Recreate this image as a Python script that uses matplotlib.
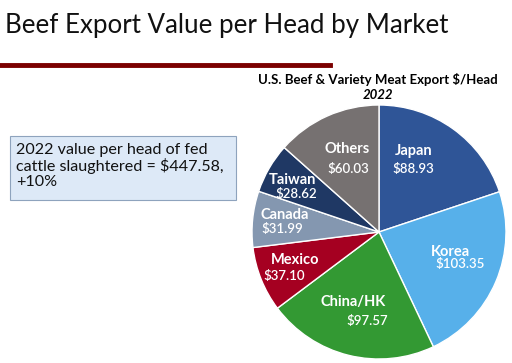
import matplotlib.pyplot as plt
from matplotlib.patches import Rectangle
from matplotlib.lines import Line2D

plt.rcParams['font.family'] = ['Lato', 'DejaVu Sans']

markets = ["Japan", "Korea", "China/HK", "Mexico", "Canada", "Taiwan", "Others"]
values = [88.93, 103.35, 97.57, 37.10, 31.99, 28.62, 60.03]
colors = ["#2f5597", "#57b0ea", "#339933", "#a50021", "#8497b0", "#1f3864", "#767171"]
# name (dx, dy) and value (dx, dy) relative to pie centre, in radius units
name_pos = [(0.27, 0.64), (0.56, -0.16), (-0.20, -0.55), (-0.66, -0.22),
            (-0.74, 0.13), (-0.68, 0.41), (-0.25, 0.65)]
value_pos = [(0.27, 0.50), (0.64, -0.25), (-0.09, -0.70), (-0.75, -0.35),
             (-0.76, 0.02), (-0.65, 0.30), (-0.24, 0.50)]

fig = plt.figure(figsize=(5.12, 3.63), dpi=100)
W, H = 512, 363

fig.text(5 / W, 1 - 25 / H, "Beef Export Value per Head by Market",
         fontsize=18.6, ha="left", va="center", color="#111111")
fig.add_artist(Line2D([0, 330 / W], [1 - 64.5 / H] * 2, color="#7b0000", lw=3.5))

fig.text(378 / W, 1 - 80 / H, "U.S. Beef & Variety Meat Export $/Head",
         fontsize=9.5, fontweight="bold", ha="center", va="center")
fig.text(378 / W, 1 - 95 / H, "2022", fontsize=9.5, fontweight="bold",
         style="italic", ha="center", va="center")

fig.add_artist(Rectangle((10 / W, 1 - 200 / H), 226 / W, 64 / H,
                         transform=fig.transFigure, facecolor="#dde9f7",
                         edgecolor="#8ea3bd", lw=0.8))
fig.text(16 / W, 1 - 166 / H,
         "2022 value per head of fed\ncattle slaughtered = $447.58,\n+10%",
         fontsize=11.6, ha="left", va="center", linespacing=1.05, color="#111111")

cx, cy, r = 379, 232, 127
ax = fig.add_axes([(cx - r) / W, (H - cy - r) / H, 2 * r / W, 2 * r / H])
ax.pie(values, colors=colors, startangle=90, counterclock=False, radius=1,
       wedgeprops=dict(edgecolor="white", linewidth=1))
for name, v, npos, vpos in zip(markets, values, name_pos, value_pos):
    ax.text(*npos, name, color="white", fontsize=10.5, fontweight="bold",
            ha="center", va="center")
    ax.text(*vpos, f"${v:.2f}", color="white", fontsize=9.5, fontweight="semibold",
            ha="center", va="center")
ax.set_xlim(-1, 1)
ax.set_ylim(-1, 1)
ax.set_aspect("equal")
ax.axis("off")

fig.savefig("out.png", dpi=100)
